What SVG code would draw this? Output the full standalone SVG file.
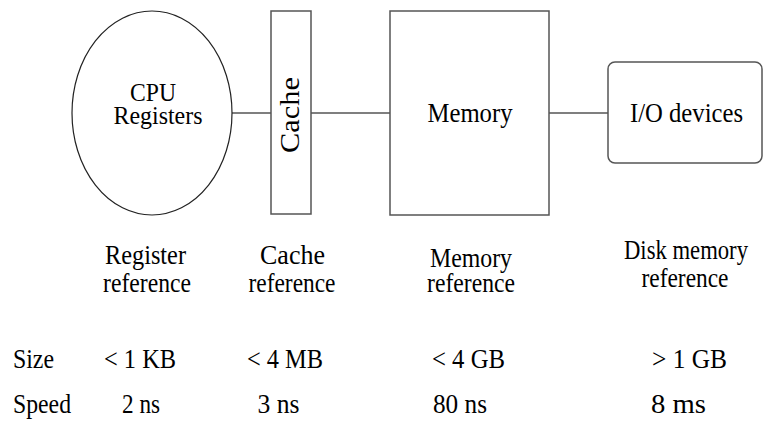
<svg xmlns="http://www.w3.org/2000/svg" width="764" height="425" viewBox="0 0 764 425">
  <style>
    .bg { fill: #ffffff; }
    .box { fill: #ffffff; stroke: #555555; stroke-width: 1.5; }
    .oval { fill: #ffffff; stroke: #222222; stroke-width: 1.2; }
    .wire { stroke: #555555; stroke-width: 1.4; fill: none; }
    text { font-family: "Liberation Serif", "Times New Roman", serif; fill: #000000; }
    .t { font-size: 28px; text-anchor: middle; }
    .s { font-size: 26px; text-anchor: middle; }
    .l { font-size: 28px; text-anchor: start; }
  </style>
  <rect class="bg" x="0" y="0" width="764" height="425"/>

  <!-- links between the hierarchy levels -->
  <g id="connectors">
    <line class="wire" x1="232" y1="113" x2="271" y2="113"/>
    <line class="wire" x1="311" y1="113" x2="390" y2="113"/>
    <line class="wire" x1="549" y1="113" x2="608" y2="113"/>
  </g>

  <g id="cpu">
    <ellipse class="oval" cx="152" cy="113" rx="80" ry="102"/>
    <text class="s" x="153" y="101" textLength="46" lengthAdjust="spacingAndGlyphs">CPU</text>
    <text class="s" x="158" y="124" textLength="89" lengthAdjust="spacingAndGlyphs">Registers</text>
  </g>

  <g id="cache">
    <rect class="box" x="271" y="11" width="40" height="203"/>
    <text class="t" transform="translate(298.5 115) rotate(-90)" x="0" y="0" textLength="76" lengthAdjust="spacingAndGlyphs">Cache</text>
  </g>

  <g id="memory">
    <rect class="box" x="390" y="11" width="159" height="204"/>
    <text class="t" x="470" y="122" textLength="85" lengthAdjust="spacingAndGlyphs">Memory</text>
  </g>

  <g id="io">
    <rect class="box" x="608" y="62" width="154" height="101" rx="7" ry="7"/>
    <text class="t" x="686.5" y="122" textLength="113" lengthAdjust="spacingAndGlyphs">I/O devices</text>
  </g>

  <!-- access type under each level -->
  <g id="reference-labels">
    <text class="t" x="145.5" y="264" textLength="81" lengthAdjust="spacingAndGlyphs">Register</text>
    <text class="t" x="147" y="291.5" textLength="88" lengthAdjust="spacingAndGlyphs">reference</text>
    <text class="t" x="292.5" y="264" textLength="65" lengthAdjust="spacingAndGlyphs">Cache</text>
    <text class="t" x="292" y="291.5" textLength="87" lengthAdjust="spacingAndGlyphs">reference</text>
    <text class="t" x="471" y="267" textLength="82" lengthAdjust="spacingAndGlyphs">Memory</text>
    <text class="t" x="471" y="292" textLength="88" lengthAdjust="spacingAndGlyphs">reference</text>
    <text class="t" x="686" y="259" textLength="124" lengthAdjust="spacingAndGlyphs">Disk memory</text>
    <text class="t" x="685" y="287" textLength="87" lengthAdjust="spacingAndGlyphs">reference</text>
  </g>

  <!-- size and speed table -->
  <g id="metrics">
    <text class="l" x="13" y="367.5" textLength="41" lengthAdjust="spacingAndGlyphs">Size</text>
    <text class="l" x="13" y="413" textLength="58" lengthAdjust="spacingAndGlyphs">Speed</text>
    <text class="t" x="140" y="367.5" textLength="72" lengthAdjust="spacingAndGlyphs">&lt; 1 KB</text>
    <text class="t" x="285" y="367.5" textLength="76" lengthAdjust="spacingAndGlyphs">&lt; 4 MB</text>
    <text class="t" x="468.5" y="367.5" textLength="73" lengthAdjust="spacingAndGlyphs">&lt; 4 GB</text>
    <text class="t" x="689.5" y="367.5" textLength="75" lengthAdjust="spacingAndGlyphs">&gt; 1 GB</text>
    <text class="t" x="141" y="413" textLength="38" lengthAdjust="spacingAndGlyphs">2 ns</text>
    <text class="t" x="278.5" y="413" textLength="42" lengthAdjust="spacingAndGlyphs">3 ns</text>
    <text class="t" x="460" y="413" textLength="54" lengthAdjust="spacingAndGlyphs">80 ns</text>
    <text class="t" x="678.5" y="413" textLength="55" lengthAdjust="spacingAndGlyphs">8 ms</text>
  </g>
</svg>
